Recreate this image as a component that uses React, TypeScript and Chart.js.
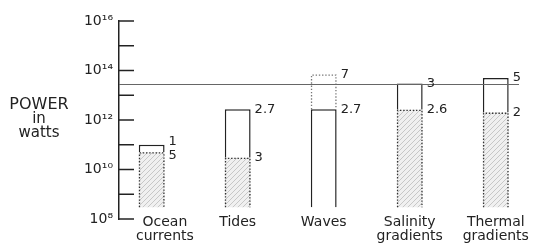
import React, { useEffect, useRef } from "react";
import { Chart, registerables } from "chart.js";

Chart.register(...registerables);

// ---- data ----
const categories: string[][] = [
  ["Ocean", "currents"],
  ["Tides"],
  ["Waves"],
  ["Salinity", "gradients"],
  ["Thermal", "gradients"],
];
const totalPower: number[] = [1e11, 2.7e12, 2.7e12, 3e13, 5e13];
const practicalPower: (number | null)[] = [5e10, 3e10, null, 2.6e12, 2e12];
const speculativePower: (number | null)[] = [null, null, 7e13, null, null];
const worldConsumption = 2.8e13;
const barFloor = 3e8;
const yMin = 1e8;
const yMax = 1e16;
const decadeExponents = [8, 9, 10, 11, 12, 13, 14, 15, 16];
const labeledExponents = [8, 10, 12, 14, 16];
const yTitle = ["POWER", "in", "watts"];

const FONT = "'DejaVu Sans', sans-serif";
const INK = "#222";

const SUP: Record<string, string> = {
  "0": "\u2070", "1": "\u00b9", "2": "\u00b2", "3": "\u00b3", "4": "\u2074",
  "5": "\u2075", "6": "\u2076", "7": "\u2077", "8": "\u2078", "9": "\u2079",
};
const sup = (n: number) => String(n).split("").map((c) => SUP[c]).join("");
const mantissa = (v: number) => {
  const e = Math.floor(Math.log10(v) + 1e-9);
  return String(parseFloat((v / Math.pow(10, e)).toFixed(1)));
};

const overlay = {
  id: "overlay",
  afterDatasetsDraw(chart: any) {
    const { ctx, chartArea, scales } = chart;
    const ys = scales.y;
    const xs = scales.x;
    ctx.save();

    // dotted outlines
    chart.data.datasets.forEach((ds: any, di: number) => {
      if (!ds.dotted) return;
      const meta = chart.getDatasetMeta(di);
      meta.data.forEach((el: any) => {
        const { x, y, base, width } = el.getProps(["x", "y", "base", "width"], true);
        const l = x - width / 2 + 0.7;
        const r = x + width / 2 - 0.7;
        ctx.beginPath();
        ctx.setLineDash([1.4, 1.8]);
        ctx.lineWidth = 1.3;
        ctx.strokeStyle = ds.dotColor;
        ctx.moveTo(l, base);
        ctx.lineTo(l, y + 0.7);
        ctx.lineTo(r, y + 0.7);
        ctx.lineTo(r, base);
        ctx.stroke();
      });
    });
    ctx.setLineDash([]);

    // world consumption reference line
    const wy = Math.round(ys.getPixelForValue(worldConsumption)) + 0.5;
    ctx.beginPath();
    ctx.strokeStyle = "#666";
    ctx.lineWidth = 1;
    ctx.moveTo(chartArea.left, wy);
    ctx.lineTo(chartArea.right, wy);
    ctx.stroke();

    // inner tick marks
    ctx.strokeStyle = INK;
    ctx.lineWidth = 1.5;
    const tickLen = 15;
    ys.ticks.forEach((t: any) => {
      const py = ys.getPixelForValue(t.value);
      ctx.beginPath();
      ctx.moveTo(chartArea.left, py);
      ctx.lineTo(chartArea.left + tickLen, py);
      ctx.stroke();
    });

    // value labels
    const upperMeta = chart.getDatasetMeta(1);
    ctx.fillStyle = INK;
    ctx.font = `13px ${FONT}`;
    ctx.textAlign = "left";
    ctx.textBaseline = "middle";
    categories.forEach((_, i) => {
      const el = upperMeta.data[i];
      if (!el) return;
      const { x, width } = el.getProps(["x", "width"], true);
      const vals = [totalPower[i], practicalPower[i], speculativePower[i]].filter(
        (v): v is number => v != null
      );
      const items = vals
        .map((v) => ({ v, y: ys.getPixelForValue(v) }))
        .sort((a, b) => a.y - b.y);
      for (let k = 1; k < items.length; k++) {
        const gap = items[k].y - items[k - 1].y;
        if (gap < 14) {
          const mid = (items[k].y + items[k - 1].y) / 2;
          items[k - 1].y = mid - 7;
          items[k].y = mid + 7;
        }
      }
      items.forEach((it) => ctx.fillText(mantissa(it.v), x + width / 2 + 4, it.y));
    });

    // category labels, kept clear of the axis tick marks
    ctx.font = `14px ${FONT}`;
    ctx.textAlign = "center";
    categories.forEach((lines, i) => {
      let px = xs.getPixelForValue(i);
      const w = Math.max(...lines.map((l) => ctx.measureText(l).width));
      const minLeft = chartArea.left + tickLen + 2;
      if (px - w / 2 < minLeft) px = minLeft + w / 2;
      lines.forEach((line, k) => {
        ctx.fillText(line, px, chartArea.bottom + 3 + k * 14);
      });
    });

    // horizontal y-axis title
    const cy = (chartArea.top + chartArea.bottom) / 2;
    yTitle.forEach((line, k) => {
      ctx.font = k === 0 ? `16px ${FONT}` : `15px ${FONT}`;
      ctx.fillText(line, 39, cy + (k - 1) * 14 - 1);
    });

    ctx.restore();
  },
};

export default function App() {
  const ref = useRef<HTMLCanvasElement>(null);

  useEffect(() => {
    const canvas = ref.current!;
    const pc = document.createElement("canvas");
    pc.width = 5;
    pc.height = 5;
    const p = pc.getContext("2d")!;
    p.fillStyle = "#f0f0f0";
    p.fillRect(0, 0, 5, 5);
    p.strokeStyle = "#c2c2c2";
    p.lineWidth = 0.9;
    p.beginPath();
    p.moveTo(-1, 6);
    p.lineTo(6, -1);
    p.moveTo(-1, 1);
    p.lineTo(1, -1);
    p.moveTo(4, 6);
    p.lineTo(6, 4);
    p.stroke();
    const hatch = canvas.getContext("2d")!.createPattern(pc, "repeat")!;

    const practicalData = practicalPower
      .map((v, i) => (v == null ? null : { x: i, y: [barFloor, v] }))
      .filter(Boolean);
    const upperData = totalPower.map((v, i) => ({
      x: i,
      y: [practicalPower[i] ?? barFloor, v],
    }));
    const specData = speculativePower
      .map((v, i) => (v == null ? null : { x: i, y: [totalPower[i], v] }))
      .filter(Boolean);

    const chart = new Chart(canvas, {
      type: "bar",
      data: {
        datasets: [
          {
            label: "practical",
            data: practicalData as any,
            backgroundColor: hatch as any,
            borderWidth: 0,
            grouped: false,
            dotted: true,
            dotColor: "#333",
          } as any,
          {
            label: "total",
            data: upperData as any,
            backgroundColor: "#fff",
            borderColor: INK,
            borderWidth: 1.5,
            borderSkipped: "start",
            grouped: false,
          } as any,
          {
            label: "speculative",
            data: specData as any,
            backgroundColor: "rgba(0,0,0,0)",
            borderWidth: 0,
            grouped: false,
            dotted: true,
            dotColor: "#777",
          } as any,
        ],
      },
      options: {
        animation: false,
        responsive: true,
        maintainAspectRatio: false,
        layout: { padding: { top: 21, right: 14, left: 0, bottom: 0 } },
        datasets: { bar: { categoryPercentage: 1, barPercentage: 0.3 } } as any,
        plugins: { legend: { display: false }, tooltip: { enabled: false } },
        scales: {
          x: {
            type: "linear",
            min: -0.38,
            max: 4.27,
            offset: false,
            grid: { display: false, drawTicks: false },
            border: { display: false },
            ticks: {
              display: false,
              stepSize: 1,
              includeBounds: false,
            },
            afterFit: (s: any) => {
              s.height = 25;
            },
          },
          y: {
            type: "logarithmic",
            min: yMin,
            max: yMax,
            grid: { display: false, drawTicks: false },
            border: { display: true, color: INK, width: 1.5 },
            ticks: {
              autoSkip: false,
              padding: 6,
              color: INK,
              font: { family: FONT, size: 14 },
              callback: (v: any) => {
                const e = Math.round(Math.log10(v));
                return labeledExponents.includes(e) ? "10" + sup(e) : "";
              },
            },
            afterBuildTicks: (s: any) => {
              s.ticks = decadeExponents.map((e) => ({ value: Math.pow(10, e) }));
            },
            afterFit: (s: any) => {
              s.width = 119;
            },
          },
        },
      },
      plugins: [overlay],
    });

    return () => chart.destroy();
  }, []);

  return (
    <div
      style={{
        position: "absolute",
        left: 0,
        top: 0,
        width: 533,
        height: 244,
        background: "#fff",
      }}
    >
      <canvas ref={ref} />
    </div>
  );
}
